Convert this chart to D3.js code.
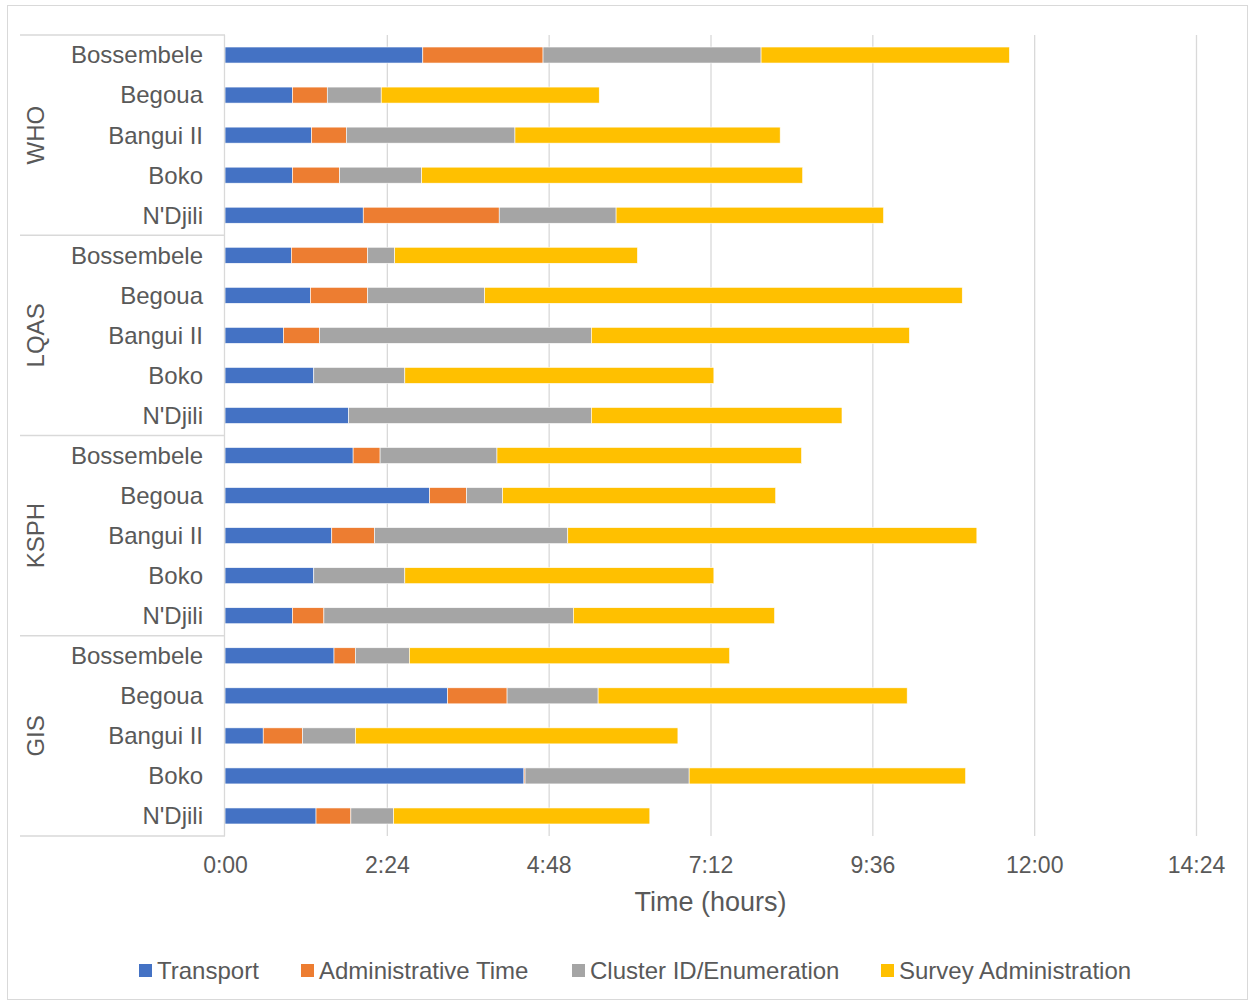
<!DOCTYPE html>
<html>
<head>
<meta charset="utf-8">
<script src="https://cdn.jsdelivr.net/npm/d3@7"></script>
<style>
    body { margin: 0; background: #fff; font-family: "Liberation Sans", Arial, sans-serif; }
</style>
</head>
<body>
<div id="chart"></div>
<script>
// groups top to bottom, each with the same five sites
let groups = ['WHO', 'LQAS', 'KSPH', 'GIS'];
let sites = ['Bossembele', 'Begoua', 'Bangui II', 'Boko', "N'Djili"];
let seriesNames = ['Transport', 'Administrative Time', 'Cluster ID/Enumeration', 'Survey Administration'];
let seriesColors = ['#4472C4', '#ED7D31', '#A5A5A5', '#FFC000'];

// minutes, in row order (WHO..GIS, sites top to bottom)
let transport = [176, 60, 77, 60, 123, 59, 76, 52, 79, 110, 114, 182, 95, 79, 60, 97, 198, 34, 266, 81];
let adminTime = [107, 31, 31, 42, 121, 68, 51, 32, 0, 0, 24, 33, 38, 0, 28, 19, 53, 35, 1, 31];
let clusterId = [194, 48, 150, 73, 104, 24, 104, 242, 81, 216, 104, 32, 172, 81, 222, 48, 81, 47, 146, 38];
let surveyAdmin = [221, 194, 236, 339, 238, 216, 425, 283, 275, 223, 271, 243, 364, 275, 179, 285, 275, 287, 246, 228];

let xTicks = [0, 144, 288, 432, 576, 720, 864];

const width = 1253, height = 1003;
const marginLeft = 225, plotRight = 1196, plotTop = 35, plotBottom = 836;
const textColor = '#595959', lineColor = '#d9d9d9';

const rows = [];
groups.forEach((g, gi) => sites.forEach((s, si) => {
    const i = gi * sites.length + si;
    rows.push({
        id: g + '|' + s, group: g, site: s,
        'Transport': transport[i],
        'Administrative Time': adminTime[i],
        'Cluster ID/Enumeration': clusterId[i],
        'Survey Administration': surveyAdmin[i]
    });
}));

const svg = d3.select('#chart').append('svg')
    .attr('width', width)
    .attr('height', height)
    .attr('viewBox', [0, 0, width, height]);

// outer chart border
svg.append('rect')
    .attr('x', 7.5).attr('y', 5.5)
    .attr('width', 1240).attr('height', 994)
    .attr('fill', 'none').attr('stroke', lineColor);

const xScale = d3.scaleLinear().domain([0, 864]).range([marginLeft, plotRight]);
const yScale = d3.scaleBand().domain(rows.map(d => d.id)).range([plotTop, plotBottom]).paddingInner(0.6).paddingOuter(0.3);
const color = d3.scaleOrdinal(seriesNames, seriesColors);

const fmt = m => `${Math.floor(m / 60)}:${String(m % 60).padStart(2, '0')}`;

// gridlines + tick labels
const xAxis = d3.axisBottom(xScale).tickValues(xTicks).tickFormat(fmt).tickSize(0).tickPadding(21);
svg.append('g')
    .attr('transform', `translate(0,${plotBottom})`)
    .call(xAxis)
    .call(g => g.select('.domain').remove())
    .call(g => g.selectAll('.tick text')
        .attr('fill', textColor)
        .style('font-size', '23px')
        .style('font-family', '"Liberation Sans", Arial, sans-serif'))
    .call(g => g.selectAll('.tick').filter(d => d > 0).append('line')
        .attr('y1', 0).attr('y2', plotTop - plotBottom)
        .attr('stroke', lineColor).attr('stroke-width', 1.3));

// stacked bars
const stacked = d3.stack().keys(seriesNames)(rows);
svg.append('g')
    .selectAll('g')
    .data(stacked)
    .join('g')
    .attr('fill', d => color(d.key))
    .selectAll('rect')
    .data(d => d)
    .join('rect')
    .attr('x', d => xScale(d[0]))
    .attr('y', d => yScale(d.data.id))
    .attr('width', d => xScale(d[1]) - xScale(d[0]))
    .attr('height', yScale.bandwidth())
    .attr('stroke', '#fff')
    .attr('stroke-width', 0.6);

// category axis line
svg.append('line')
    .attr('x1', marginLeft - 0.5).attr('x2', marginLeft - 0.5)
    .attr('y1', plotTop).attr('y2', plotBottom)
    .attr('stroke', lineColor).attr('stroke-width', 1.3);

// site labels
svg.append('g')
    .selectAll('text')
    .data(rows)
    .join('text')
    .attr('x', 203)
    .attr('y', d => yScale(d.id) + yScale.bandwidth() / 2)
    .attr('dy', '0.35em')
    .attr('text-anchor', 'end')
    .attr('fill', textColor)
    .style('font-size', '24px')
    .text(d => d.site);

// group separators and labels
const groupY = groups.map((g, gi) => plotTop + gi * sites.length * (plotBottom - plotTop) / rows.length);
svg.append('g')
    .selectAll('line')
    .data(groupY.concat([plotBottom]))
    .join('line')
    .attr('x1', 20).attr('x2', marginLeft)
    .attr('y1', d => d).attr('y2', d => d)
    .attr('stroke', lineColor).attr('stroke-width', 1.3);

svg.append('g')
    .selectAll('text')
    .data(groups)
    .join('text')
    .attr('transform', (d, i) => {
        const cy = groupY[i] + (plotBottom - plotTop) / groups.length / 2;
        return `translate(36,${cy}) rotate(-90)`;
    })
    .attr('dy', '0.35em')
    .attr('text-anchor', 'middle')
    .attr('fill', textColor)
    .style('font-size', '24px')
    .text(d => d);

// axis title
svg.append('text')
    .attr('x', (marginLeft + plotRight) / 2)
    .attr('y', 911)
    .attr('text-anchor', 'middle')
    .attr('fill', textColor)
    .style('font-size', '27px')
    .text('Time (hours)');

// legend
const legendX = [139, 301, 572, 881];
const legend = svg.append('g')
    .selectAll('g')
    .data(seriesNames)
    .join('g')
    .attr('transform', (d, i) => `translate(${legendX[i]},964)`);
legend.append('rect')
    .attr('width', 13).attr('height', 13)
    .attr('fill', d => color(d));
legend.append('text')
    .attr('x', 18).attr('y', 7)
    .attr('dy', '0.35em')
    .attr('fill', textColor)
    .style('font-size', '24px')
    .text(d => d);
</script>
</body>
</html>
